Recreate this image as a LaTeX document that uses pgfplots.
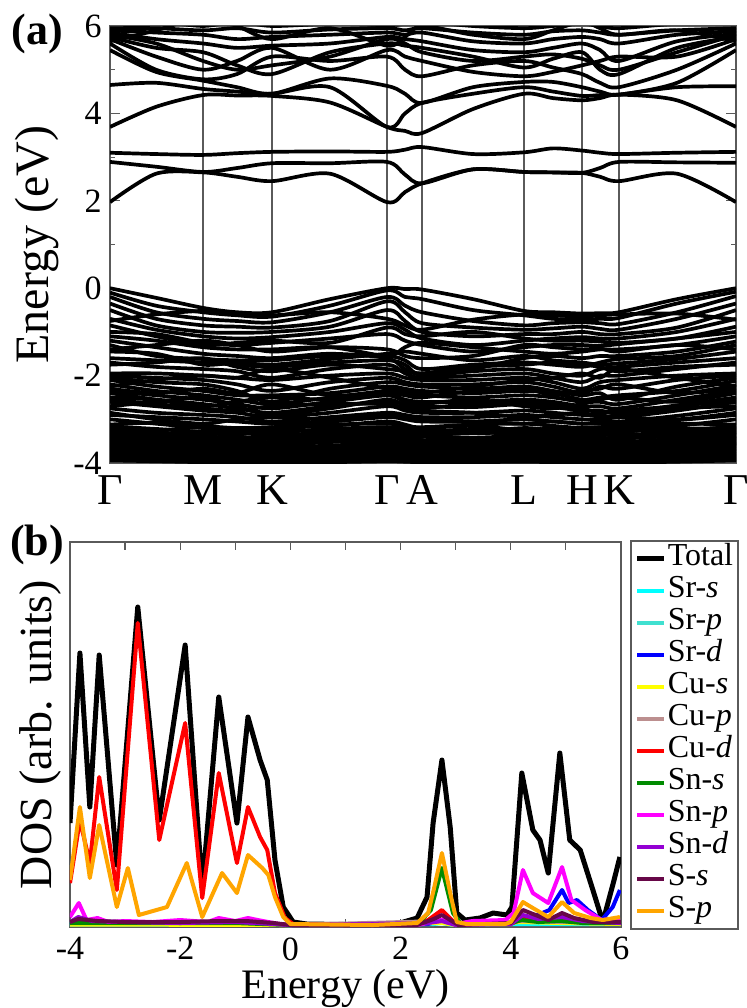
\documentclass[border=0pt]{standalone}
\usepackage{fontspec}
\setmainfont{Liberation Serif}
\usepackage{pgfplots}
\usepackage{pgfplotstable}
\pgfplotsset{compat=1.18}
\definecolor{srs}{RGB}{0,255,255}
\definecolor{srp}{RGB}{64,224,208}
\definecolor{srd}{RGB}{0,0,255}
\definecolor{cus}{RGB}{255,255,0}
\definecolor{cup}{RGB}{188,143,143}
\definecolor{cud}{RGB}{255,0,0}
\definecolor{sns}{RGB}{0,139,0}
\definecolor{snp}{RGB}{255,0,255}
\definecolor{snd}{RGB}{148,0,211}
\definecolor{ss}{RGB}{103,7,72}
\definecolor{sp}{RGB}{255,165,0}
\definecolor{frame}{RGB}{90,90,90}

% band energies (eV) at k positions along G-M-K-G-A-L-H-K-G
\pgfplotstableread[header=has colnames]{
name 0 46 93 127 162 220 277 295 312 363 414 443 472 490 509 567 626
b1 1.97 2.62 2.65 2.55 2.45 2.62 1.97 2.20 2.40 2.72 2.66 2.65 2.64 2.55 2.45 2.62 1.97
b2 2.89 2.78 2.66 2.75 2.86 2.86 2.89 2.60 2.40 2.72 2.66 2.65 2.64 2.75 2.89 2.88 2.87
b3 3.10 3.07 3.05 3.09 3.12 3.13 3.12 3.17 3.23 3.07 3.11 3.20 3.15 3.10 3.07 3.10 3.12
b4 3.69 4.15 4.42 4.41 4.40 4.25 3.69 3.60 3.55 4.10 4.45 4.35 4.30 4.35 4.43 4.30 3.69
b5 4.65 4.70 4.56 4.50 4.45 4.60 3.69 4.00 4.24 4.45 4.60 4.50 4.40 4.42 4.43 4.60 4.62
b6 5.45 4.95 4.75 4.60 4.45 4.80 4.63 4.45 4.24 4.60 4.72 4.72 4.60 4.50 4.43 4.70 5.45
b7 5.60 5.00 4.78 4.90 5.30 5.20 5.30 5.00 4.85 5.10 5.20 5.05 4.90 4.70 4.60 5.00 5.60
b8 5.70 5.30 5.00 5.20 5.50 5.00 5.45 5.30 5.20 4.95 4.85 4.95 5.10 5.20 5.30 5.30 5.70
b9 5.75 5.50 5.40 5.10 4.90 5.40 5.60 5.55 5.50 5.30 5.05 5.25 5.40 5.00 4.90 5.50 5.75
b10 5.85 5.70 5.60 5.50 5.55 5.60 5.75 5.70 5.65 5.45 5.40 5.50 5.60 5.45 5.20 5.65 5.82
b11 5.90 5.85 5.80 5.70 5.75 5.80 5.85 5.80 5.85 5.65 5.60 5.70 5.75 5.70 5.60 5.80 5.88
b12 5.95 5.95 5.90 5.95 5.85 5.92 5.95 5.90 5.95 5.85 5.80 5.88 5.90 5.85 5.80 5.90 5.95
b13 6.05 6.10 6.00 6.10 6.00 6.05 6.02 6.05 6.10 6.00 5.95 6.00 6.05 6.00 5.95 6.05 6.05
b14 5.65 5.90 6.20 6.00 5.70 5.95 5.55 5.75 6.00 5.80 5.70 5.90 6.10 5.95 5.80 5.90 5.65
b15 5.80 5.60 5.20 5.00 5.10 5.30 5.70 5.60 5.40 5.20 5.30 5.35 5.25 5.10 5.00 5.40 5.80
b16 0.00 -0.22 -0.45 -0.55 -0.55 -0.25 0.00 -0.02 -0.03 -0.25 -0.52 -0.55 -0.58 -0.57 -0.55 -0.25 0.00
b17 -0.10 -0.40 -0.55 -0.62 -0.65 -0.40 -0.05 -0.20 -0.25 -0.50 -0.62 -0.70 -0.72 -0.70 -0.68 -0.35 -0.08
b18 -0.20 -0.55 -0.70 -0.75 -0.78 -0.55 -0.20 -0.40 -0.55 -0.75 -0.85 -0.80 -0.78 -0.80 -0.82 -0.55 -0.18
b19 -0.35 -0.70 -0.85 -0.88 -0.90 -0.75 -0.30 -0.55 -0.80 -0.90 -0.95 -0.92 -0.88 -0.93 -0.95 -0.70 -0.35
b20 -0.50 -0.85 -1.00 -1.02 -1.00 -0.88 -0.50 -0.75 -1.00 -1.10 -1.05 -1.05 -1.00 -1.05 -1.05 -0.90 -0.50
b21 -0.70 -0.95 -1.10 -1.15 -1.12 -1.00 -0.80 -0.95 -1.15 -1.30 -1.20 -1.15 -1.12 -1.15 -1.15 -1.00 -0.70
b22 -1.00 -1.05 -1.25 -1.30 -1.25 -1.15 -1.05 -1.20 -1.30 -1.45 -1.35 -1.30 -1.30 -1.32 -1.28 -1.15 -1.00
b23 -1.10 -1.20 -1.35 -1.40 -1.40 -1.35 -1.55 -1.35 -1.25 -1.35 -1.45 -1.50 -1.45 -1.40 -1.40 -1.30 -1.10
b24 -1.20 -1.35 -1.50 -1.55 -1.60 -1.50 -1.60 -1.85 -1.95 -1.85 -1.60 -1.55 -1.60 -1.55 -1.55 -1.45 -1.22
b25 -1.30 -1.55 -1.62 -1.65 -1.65 -1.55 -1.55 -1.65 -1.85 -1.75 -1.70 -1.75 -1.80 -1.70 -1.62 -1.55 -1.30
b26 -1.60 -1.65 -1.70 -1.75 -1.80 -1.70 -1.65 -1.75 -2.00 -1.90 -1.85 -1.95 -2.00 -1.85 -1.80 -1.70 -1.60
b27 -1.70 -1.80 -1.85 -1.90 -2.05 -1.85 -1.75 -1.95 -2.05 -2.00 -1.95 -2.05 -2.15 -2.00 -2.00 -1.85 -1.70
b28 -1.95 -1.95 -2.00 -2.05 -2.10 -2.00 -1.95 -2.05 -2.10 -2.10 -2.05 -2.15 -2.30 -2.15 -2.10 -2.00 -1.95
b29 -2.00 -2.05 -2.10 -2.20 -2.35 -2.15 -2.05 -2.15 -2.20 -2.20 -2.15 -2.25 -2.40 -2.25 -2.30 -2.10 -2.00
b30 -2.05 -2.15 -2.20 -2.35 -2.60 -2.30 -2.15 -2.20 -2.25 -2.30 -2.25 -2.35 -2.45 -2.40 -2.55 -2.25 -2.05
b31 -2.10 -2.25 -2.35 -2.45 -2.45 -2.40 -2.25 -2.30 -2.35 -2.40 -2.35 -2.40 -2.55 -2.50 -2.45 -2.35 -2.12
b32 -2.20 -2.35 -2.45 -2.55 -2.65 -2.50 -2.35 -2.40 -2.45 -2.50 -2.45 -2.50 -2.60 -2.60 -2.65 -2.45 -2.22
b33 -2.35 -2.45 -2.55 -2.65 -2.75 -2.60 -2.45 -2.55 -2.60 -2.60 -2.55 -2.60 -2.70 -2.70 -2.75 -2.55 -2.35
b34 -2.50 -2.55 -2.65 -2.75 -2.85 -2.70 -2.60 -2.65 -2.70 -2.72 -2.65 -2.72 -2.80 -2.80 -2.85 -2.68 -2.50
b35 -2.60 -2.70 -2.80 -2.85 -2.95 -2.85 -2.70 -2.80 -2.85 -2.85 -2.80 -2.85 -2.90 -2.90 -2.95 -2.80 -2.60
b36 -2.75 -2.85 -2.90 -2.95 -3.05 -2.95 -2.85 -2.90 -2.95 -2.95 -2.90 -2.95 -3.00 -3.00 -3.05 -2.92 -2.75
b37 -2.90 -2.95 -3.00 -3.05 -3.10 -3.05 -2.95 -3.00 -3.05 -3.05 -3.00 -3.05 -3.10 -3.10 -3.10 -3.02 -2.90
b38 -3.12 -3.08 -3.15 -3.20 -3.18 -3.12 -3.10 -3.15 -3.18 -3.12 -3.10 -3.15 -3.20 -3.18 -3.15 -3.10 -3.12
b39 -3.20 -3.25 -3.18 -3.25 -3.30 -3.22 -3.18 -3.22 -3.25 -3.28 -3.20 -3.25 -3.25 -3.30 -3.28 -3.22 -3.20
b40 -3.25 -3.30 -3.35 -3.30 -3.38 -3.32 -3.28 -3.30 -3.35 -3.32 -3.30 -3.35 -3.38 -3.35 -3.36 -3.30 -3.25
b41 -3.32 -3.36 -3.42 -3.40 -3.45 -3.38 -3.35 -3.38 -3.40 -3.42 -3.38 -3.42 -3.45 -3.42 -3.44 -3.38 -3.32
b42 -3.38 -3.42 -3.48 -3.50 -3.52 -3.45 -3.42 -3.45 -3.48 -3.50 -3.45 -3.48 -3.52 -3.50 -3.52 -3.45 -3.38
b43 -3.45 -3.50 -3.55 -3.58 -3.60 -3.52 -3.48 -3.52 -3.55 -3.55 -3.52 -3.55 -3.58 -3.58 -3.60 -3.52 -3.45
b44 -3.50 -3.55 -3.62 -3.64 -3.66 -3.60 -3.55 -3.58 -3.62 -3.60 -3.58 -3.62 -3.64 -3.64 -3.66 -3.58 -3.50
b45 -3.56 -3.62 -3.68 -3.70 -3.70 -3.66 -3.60 -3.64 -3.66 -3.68 -3.64 -3.68 -3.70 -3.70 -3.70 -3.64 -3.56
b46 -3.62 -3.68 -3.72 -3.76 -3.78 -3.72 -3.66 -3.70 -3.72 -3.74 -3.70 -3.74 -3.76 -3.76 -3.78 -3.70 -3.62
b47 -3.68 -3.72 -3.78 -3.82 -3.84 -3.78 -3.72 -3.76 -3.78 -3.80 -3.76 -3.80 -3.82 -3.82 -3.84 -3.76 -3.68
b48 -3.74 -3.78 -3.84 -3.86 -3.88 -3.84 -3.78 -3.82 -3.84 -3.85 -3.82 -3.85 -3.86 -3.86 -3.88 -3.82 -3.74
b49 -3.80 -3.84 -3.88 -3.90 -3.92 -3.88 -3.84 -3.86 -3.88 -3.90 -3.86 -3.90 -3.90 -3.90 -3.92 -3.86 -3.80
b50 -3.85 -3.88 -3.92 -3.94 -3.95 -3.92 -3.88 -3.90 -3.92 -3.93 -3.90 -3.93 -3.94 -3.94 -3.95 -3.90 -3.85
b51 -3.90 -3.92 -3.95 -3.96 -3.97 -3.95 -3.92 -3.94 -3.95 -3.96 -3.94 -3.96 -3.96 -3.96 -3.97 -3.94 -3.90
b52 -3.94 -3.96 -3.98 -3.98 -3.99 -3.98 -3.96 -3.97 -3.98 -3.98 -3.97 -3.98 -3.98 -3.98 -3.99 -3.97 -3.94
b53 -3.60 -3.55 -3.45 -3.35 -3.30 -3.42 -3.58 -3.50 -3.40 -3.30 -3.35 -3.40 -3.35 -3.28 -3.30 -3.45 -3.60
b54 -0.75 -0.60 -0.52 -0.58 -0.62 -0.55 -0.70 -0.85 -0.95 -0.72 -0.60 -0.62 -0.65 -0.62 -0.60 -0.58 -0.72
b55 -0.85 -1.10 -1.30 -1.25 -1.20 -1.25 -0.90 -1.05 -1.10 -1.00 -1.15 -1.20 -1.20 -1.22 -1.25 -1.15 -0.88
b56 -1.40 -1.30 -1.20 -1.30 -1.45 -1.35 -1.40 -1.55 -1.60 -1.55 -1.30 -1.35 -1.40 -1.38 -1.45 -1.30 -1.40
b57 -1.75 -1.70 -1.60 -1.80 -1.90 -1.75 -1.85 -1.90 -1.95 -1.80 -1.75 -1.70 -1.75 -1.80 -1.90 -1.80 -1.75
b58 -2.25 -2.10 -2.00 -2.05 -1.85 -2.05 -2.30 -2.35 -2.40 -2.25 -2.10 -2.05 -1.95 -2.05 -1.85 -2.05 -2.25
b59 -2.40 -2.55 -2.70 -2.60 -2.50 -2.55 -2.45 -2.60 -2.65 -2.55 -2.70 -2.75 -2.65 -2.55 -2.50 -2.60 -2.40
b60 -2.70 -2.60 -2.50 -2.70 -2.90 -2.75 -2.55 -2.70 -2.80 -2.85 -2.95 -2.90 -2.85 -2.95 -2.90 -2.75 -2.70
b61 -2.85 -3.00 -3.10 -3.00 -2.95 -3.00 -2.90 -2.95 -3.00 -3.05 -3.10 -3.05 -3.10 -3.05 -2.95 -3.00 -2.85
b62 -3.00 -3.10 -3.20 -3.25 -3.20 -3.15 -3.05 -3.12 -3.20 -3.15 -3.25 -3.20 -3.22 -3.20 -3.22 -3.15 -3.00
b63 -3.16 -3.22 -3.28 -3.22 -3.24 -3.28 -3.22 -3.26 -3.30 -3.22 -3.26 -3.30 -3.32 -3.24 -3.22 -3.26 -3.16
b64 -3.29 -3.33 -3.38 -3.44 -3.40 -3.36 -3.31 -3.34 -3.38 -3.46 -3.42 -3.38 -3.41 -3.46 -3.40 -3.34 -3.29
b65 -3.41 -3.46 -3.51 -3.54 -3.56 -3.49 -3.45 -3.48 -3.52 -3.58 -3.49 -3.52 -3.55 -3.54 -3.56 -3.48 -3.41
b66 -3.53 -3.58 -3.65 -3.67 -3.73 -3.63 -3.57 -3.61 -3.64 -3.64 -3.61 -3.65 -3.67 -3.73 -3.74 -3.61 -3.53
b67 -2.30 -2.40 -2.30 -2.40 -2.20 -2.45 -2.40 -2.45 -2.50 -2.35 -2.30 -2.45 -2.35 -2.30 -2.20 -2.40 -2.30
b68 -2.55 -2.65 -2.75 -2.80 -2.70 -2.65 -2.65 -2.75 -2.75 -2.65 -2.60 -2.65 -2.75 -2.85 -2.80 -2.70 -2.55
b69 -1.45 -1.50 -1.75 -1.70 -1.75 -1.62 -1.50 -1.45 -1.50 -1.65 -1.55 -1.65 -1.70 -1.75 -1.72 -1.62 -1.45
}\bandsraw
\pgfplotstabletranspose[colnames from=name]{\bands}{\bandsraw}

\begin{document}
\begin{tikzpicture}
\useasboundingbox (0,0) rectangle (373.5pt,-504pt);

% ---------------- (a) band structure ----------------
\begin{axis}[
  at={(55pt,-13pt)}, anchor=north west,
  scale only axis, width=313pt, height=218.5pt,
  xmin=0, xmax=626, ymin=-4, ymax=6,
  xtick={0,93,162,277,312,414,472,509,626},
  xticklabels={Γ,M,K,Γ,A,L,H,K,Γ},
  xmajorgrids, major x grid style={frame, line width=0.6pt},
  x tick style={draw=none},
  ytick={-4,-2,0,2,4,6}, yticklabels={-4,-2,0,2,4,6},
  minor ytick={-3,-1,1,3,5},
  tick align=inside, ytick pos=both,
  major tick length=5pt, minor tick length=2.5pt,
  y tick style={frame, line width=0.6pt},
  axis line style={frame, line width=0.8pt},
  xticklabel style={font=\fontsize{22}{22}\selectfont, inner sep=0pt, yshift=-6pt},
  yticklabel style={font=\fontsize{17}{17}\selectfont, inner sep=0pt, xshift=-4pt},
  ylabel={Energy (eV)},
  every axis y label/.style={at={(axis description cs:-0.117,0.5)}, rotate=90, anchor=center, font=\fontsize{24}{24}\selectfont, inner sep=0pt},
]
\pgfplotsinvokeforeach{1,...,69}{
  \addplot[black, line width=1.85pt, smooth, line join=round] table[x=colnames, y=b#1] {\bands};
}
\end{axis}
\node[font=\bfseries\fontsize{22}{22}\selectfont] at (18.5pt,-17pt) {(a)};

% ---------------- (b) DOS ----------------
\begin{axis}[
  at={(35pt,-271pt)}, anchor=north west,
  scale only axis, width=275.5pt, height=192.5pt,
  xmin=-4, xmax=6, ymin=-2, ymax=383,
  xtick={-4,-2,0,2,4,6}, xticklabels={-4,-2,0,2,4,6},
  minor xtick={-3,-1,1,3,5},
  ytick=\empty,
  tick align=inside, xtick pos=both,
  major tick length=4pt, minor tick length=4pt,
  tick style={frame, line width=0.6pt},
  axis line style={frame, line width=0.8pt},
  xticklabel style={font=\fontsize{17}{17}\selectfont, inner sep=0pt, yshift=-5pt},
  xlabel={Energy (eV)},
  every axis x label/.style={at={(axis description cs:0.5,-0.186)}, anchor=base, font=\fontsize{21}{21}\selectfont, inner sep=0pt},
  ylabel={DOS (arb. units)},
  every axis y label/.style={at={(axis description cs:-0.054,0.5)}, rotate=90, anchor=center, font=\fontsize{23}{23}\selectfont, inner sep=0pt},
  legend cell align=left,
  legend style={at={(1.0163,1.005)}, anchor=north west, draw=frame, line width=0.8pt,
    font=\fontsize{16}{16}\selectfont, inner xsep=2pt, inner ysep=1pt, row sep=0pt,
    nodes={inner sep=0.5pt, text height=11pt, text depth=4pt}},
  legend image code/.code={\draw[#1] (0pt,0pt) -- (13.5pt,0pt);},
  every axis plot/.append style={line join=round, line width=2pt},
]
\addplot[black, line width=2.5pt] coordinates {
(-4.00,102) (-3.82,272) (-3.64,118) (-3.47,270) (-3.15,60) (-2.77,318) (-2.38,105)
(-1.91,280) (-1.60,37) (-1.30,228) (-0.97,102) (-0.77,208) (-0.55,165) (-0.42,145)
(-0.28,65) (-0.13,18) (0.05,3) (0.30,1) (1.00,0.5) (1.63,0.5) (1.99,2) (2.30,7)
(2.48,28) (2.59,102) (2.75,165) (2.90,98) (3.02,12) (3.17,5) (3.44,7) (3.68,12)
(3.93,10) (4.02,18) (4.20,152) (4.40,95) (4.53,85) (4.68,52) (4.89,172) (5.07,85)
(5.26,75) (5.49,35) (5.67,3) (5.86,42) (5.98,68)};
\addlegendentry{Total}
\addplot[srs] coordinates {(-4,0.5) (-2,0.5) (0,0) (2.6,1) (2.75,2) (2.9,0.5) (4.2,1) (6,1)};
\addlegendentry{Sr-\textit{s}}
\addplot[srp] coordinates {(-4,1) (-2,1) (0,0) (2.75,3) (3,0) (4.2,3) (4.9,3) (6,2)};
\addlegendentry{Sr-\textit{p}}
\addplot[srd] coordinates {(-4,1) (-2,1) (0,0) (2.5,1) (2.75,5) (3.0,1) (4.0,2) (4.2,6) (4.4,8)
(4.7,15) (4.93,35) (5.05,22) (5.2,25) (5.4,15) (5.65,5) (5.85,18) (5.98,35)};
\addlegendentry{Sr-\textit{d}}
\addplot[cus] coordinates {(-4,0.5) (0,0) (2.75,2) (3,0) (4.2,3) (4.9,2) (6,1)};
\addlegendentry{Cu-\textit{s}}
\addplot[cup] coordinates {(-4,2) (-3.8,3) (-2.8,3) (-2,2) (-1.3,3) (-0.8,2) (0,0) (2.75,4) (3,0) (4.2,4) (4.9,3) (6,2)};
\addlegendentry{Cu-\textit{p}}
\addplot[cud] coordinates {
(-4.00,42) (-3.82,105) (-3.64,62) (-3.47,148) (-3.15,35) (-2.77,302) (-2.38,85)
(-1.91,202) (-1.60,27) (-1.30,152) (-0.97,62) (-0.77,118) (-0.55,88) (-0.42,75)
(-0.28,32) (-0.10,7) (0.05,1) (1.0,0) (2.3,1) (2.5,5) (2.75,15) (2.95,4) (3.1,1)
(4.0,1) (4.2,6) (4.5,4) (4.9,5) (5.3,3) (5.7,2) (6.0,3)};
\addlegendentry{Cu-\textit{d}}
\addplot[sns] coordinates {(-4,2) (-3,2) (-2,2) (-1,2) (0,0) (2.3,0) (2.55,15) (2.75,57) (2.95,12) (3.1,1)
(4.0,2) (4.2,5) (4.5,3) (4.9,4) (5.3,2) (6,2)};
\addlegendentry{Sn-\textit{s}}
\addplot[snp] coordinates {
(-4.00,8) (-3.84,22) (-3.70,5) (-3.50,7) (-3.3,3) (-3.0,4) (-2.5,3) (-2.0,5) (-1.5,3)
(-1.30,7) (-1.0,4) (-0.77,7) (-0.5,4) (-0.2,1) (0,0) (2.3,0) (2.75,5) (3.0,1) (3.3,4)
(3.9,5) (4.05,12) (4.22,55) (4.40,32) (4.68,22) (4.93,58) (5.10,25) (5.35,15) (5.65,5) (5.98,7)};
\addlegendentry{Sn-\textit{p}}
\addplot[snd] coordinates {(-4,3) (-3.85,8) (-3.6,4) (-3,3) (-2,2) (-1,3) (-0.3,1) (0,0) (2.5,2) (2.75,4) (3.0,0)
(4,1) (4.22,10) (4.5,6) (4.93,8) (5.3,4) (6,2)};
\addlegendentry{Sn-\textit{d}}
\addplot[ss] coordinates {(-4,3) (-3.85,6) (-3.5,4) (-3,3) (-2,3) (-1.3,4) (-0.8,4) (-0.3,2) (0,0) (2.3,0)
(2.6,6) (2.75,10) (2.9,5) (3.05,0) (4.0,2) (4.22,15) (4.45,10) (4.68,5) (4.93,12) (5.15,7) (5.5,3) (6,3)};
\addlegendentry{S-\textit{s}}
\addplot[sp] coordinates {
(-4.00,45) (-3.82,118) (-3.64,47) (-3.47,100) (-3.15,18) (-2.95,57) (-2.75,10) (-2.24,18)
(-1.88,62) (-1.60,8) (-1.24,52) (-0.97,32) (-0.77,70) (-0.51,57) (-0.40,50) (-0.28,28)
(-0.13,8) (0.0,1) (1.5,0) (2.3,2) (2.5,12) (2.6,35) (2.75,72) (2.9,32) (3.02,3) (3.2,1)
(3.9,1) (4.0,3) (4.22,23) (4.40,17) (4.68,8) (4.93,23) (5.15,12) (5.45,7) (5.67,5) (5.98,8)};
\addlegendentry{S-\textit{p}}
\end{axis}
\node[font=\bfseries\fontsize{22}{22}\selectfont] at (18.5pt,-272.5pt) {(b)};
\end{tikzpicture}
\end{document}
